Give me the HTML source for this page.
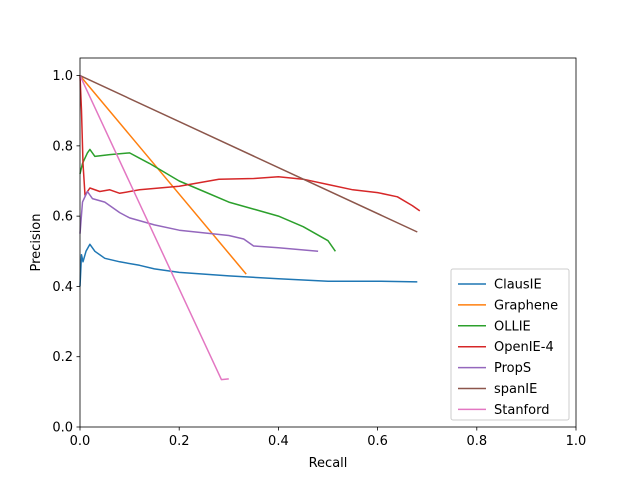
<!DOCTYPE html>
<html><head><meta charset="utf-8"><style>body{margin:0;background:#fff}svg{display:block;font-family:"DejaVu Sans","Liberation Sans",sans-serif}</style></head>
<body>
<svg id="chart" width="640" height="480" viewBox="0 0 640 480">
<rect width="640" height="480" fill="#fff"/>
<g id="plot"></g>
<g id="axes"></g>
<g id="legend"></g>
</svg>
<script>
const xTicks=[0,0.2,0.4,0.6,0.8,1.0];
const yTicks=[0,0.2,0.4,0.6,0.8,1.0];
const seriesNames=["ClausIE","Graphene","OLLIE","OpenIE-4","PropS","spanIE","Stanford"];
const clausieX=[0,0.003,0.006,0.012,0.02,0.03,0.05,0.08,0.12,0.15,0.2,0.3,0.4,0.5,0.6,0.68];
const clausieY=[0.40,0.49,0.47,0.50,0.52,0.50,0.48,0.47,0.46,0.45,0.44,0.43,0.422,0.415,0.415,0.413];
const grapheneX=[0,0.335];
const grapheneY=[1.0,0.435];
const ollieX=[0,0.005,0.015,0.02,0.03,0.06,0.1,0.12,0.14,0.2,0.25,0.3,0.35,0.4,0.45,0.5,0.515];
const ollieY=[0.72,0.75,0.78,0.79,0.77,0.775,0.78,0.765,0.75,0.70,0.67,0.64,0.62,0.60,0.57,0.53,0.50];
const openieX=[0,0.003,0.006,0.01,0.02,0.04,0.06,0.08,0.12,0.2,0.28,0.35,0.4,0.45,0.5,0.55,0.6,0.64,0.67,0.685];
const openieY=[1.0,0.9,0.75,0.66,0.68,0.67,0.675,0.665,0.675,0.685,0.705,0.707,0.712,0.705,0.69,0.675,0.667,0.655,0.63,0.615];
const propsX=[0,0.005,0.015,0.025,0.05,0.08,0.1,0.15,0.2,0.3,0.33,0.35,0.4,0.48];
const propsY=[0.55,0.64,0.67,0.65,0.64,0.61,0.595,0.575,0.56,0.545,0.535,0.515,0.51,0.50];
const spanieX=[0,0.68];
const spanieY=[1.0,0.555];
const stanfordX=[0,0.285,0.3];
const stanfordY=[1.0,0.135,0.137];
const colors=["#1f77b4","#ff7f0e","#2ca02c","#d62728","#9467bd","#8c564b","#e377c2"];
const allX=[clausieX,grapheneX,ollieX,openieX,propsX,spanieX,stanfordX];
const allY=[clausieY,grapheneY,ollieY,openieY,propsY,spanieY,stanfordY];
const L=80,R=576,T=58,B=427;
function sx(v){return L+v*(R-L);}
function sy(v){return B-v*(B-T)/1.05;}
const NS="http://www.w3.org/2000/svg";
function mk(tag,attrs,parent,text){const e=document.createElementNS(NS,tag);for(const k in attrs)e.setAttribute(k,attrs[k]);if(text!==undefined)e.textContent=text;parent.appendChild(e);return e;}
const plot=document.getElementById('plot'),axes=document.getElementById('axes'),leg=document.getElementById('legend');
allX.forEach((xs,i)=>{
  const d=xs.map((x,j)=>(j?'L':'M')+sx(x).toFixed(1)+','+sy(allY[i][j]).toFixed(1)).join(' ');
  const p=mk('path',{d:d,fill:'none',stroke:colors[i],'stroke-width':1.5,'stroke-linejoin':'round'},plot);
  
  
});
const frame=mk('rect',{x:L,y:T,width:R-L,height:B-T,fill:'none',stroke:'#000','stroke-width':0.8},axes);


xTicks.forEach(t=>{
  mk('line',{x1:sx(t),x2:sx(t),y1:B,y2:B+3.5,stroke:'#000','stroke-width':0.8},axes);
  const tx=mk('text',{x:sx(t),y:B+18,'font-size':13,'text-anchor':'middle'},axes,t.toFixed(1));
  
  
});
yTicks.forEach(t=>{
  mk('line',{x1:L-3.5,x2:L,y1:sy(t),y2:sy(t),stroke:'#000','stroke-width':0.8},axes);
  const tx=mk('text',{x:L-7,y:sy(t)+4.5,'font-size':13,'text-anchor':'end'},axes,t.toFixed(1));
  
  
});
const xt=mk('text',{x:(L+R)/2,y:467,'font-size':13,'text-anchor':'middle'},axes,'Recall');


const yt=mk('text',{x:0,y:0,'font-size':13,'text-anchor':'middle',transform:'translate(40,'+((T+B)/2)+') rotate(-90)'},axes,'Precision');


const box=mk('rect',{x:451,y:269,width:118,height:151,rx:2,fill:'#fff','fill-opacity':0.8,stroke:'#ccc','stroke-width':1},leg);


seriesNames.forEach((n,i)=>{
  const y=284+i*20.9;
  const g=mk('g',{},leg);
  
  
  mk('line',{x1:458,x2:486,y1:y,y2:y,stroke:colors[i],'stroke-width':1.5},g);
  mk('text',{x:494,y:y+4.5,'font-size':13},g,n);
});
</script>
</body></html>
